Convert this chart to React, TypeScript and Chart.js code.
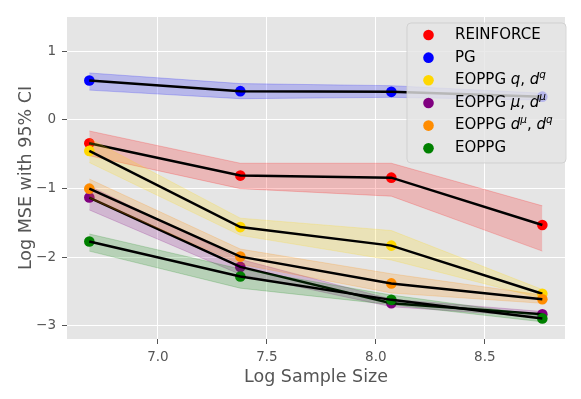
import React, { useEffect, useRef } from 'react';
import { Chart, registerables } from 'chart.js';

Chart.register(...registerables);

const FONT = '"DejaVu Sans", sans-serif';

// Data
const xValues = [6.685, 7.378, 8.071, 8.764];
const xTicks = [7.0, 7.5, 8.0, 8.5];
const yTicks = [-3, -2, -1, 0, 1];

const reinforceMean = [-0.34, -0.81, -0.84, -1.53];
const reinforceUpper = [-0.16, -0.63, -0.63, -1.25];
const reinforceLower = [-0.52, -1.0, -1.11, -1.91];

const pgMean = [0.575, 0.42, 0.41, 0.34];
const pgUpper = [0.685, 0.53, 0.5, 0.39];
const pgLower = [0.435, 0.31, 0.33, 0.29];

const qdqMean = [-0.45, -1.56, -1.83, -2.53];
const qdqUpper = [-0.27, -1.43, -1.61, -2.47];
const qdqLower = [-0.62, -1.68, -2.04, -2.6];

const mudmuMean = [-1.13, -2.14, -2.67, -2.83];
const mudmuUpper = [-0.96, -2.03, -2.61, -2.79];
const mudmuLower = [-1.31, -2.25, -2.72, -2.87];

const dmudqMean = [-1.0, -1.99, -2.38, -2.61];
const dmudqUpper = [-0.86, -1.88, -2.24, -2.55];
const dmudqLower = [-1.14, -2.1, -2.52, -2.67];

const eoppgMean = [-1.77, -2.28, -2.62, -2.89];
const eoppgUpper = [-1.66, -2.17, -2.55, -2.85];
const eoppgLower = [-1.91, -2.45, -2.69, -2.94];

type Run = { t: string; it?: boolean; sup?: boolean };

const seriesLabels: Run[][] = [
  [{ t: 'REINFORCE' }],
  [{ t: 'PG' }],
  [{ t: 'EOPPG ' }, { t: 'q', it: true }, { t: ', ' }, { t: 'd', it: true }, { t: 'q', it: true, sup: true }],
  [{ t: 'EOPPG ' }, { t: 'μ', it: true }, { t: ', ' }, { t: 'd', it: true }, { t: 'μ', it: true, sup: true }],
  [{ t: 'EOPPG ' }, { t: 'd', it: true }, { t: 'μ', it: true, sup: true }, { t: ', ' }, { t: 'd', it: true }, { t: 'q', it: true, sup: true }],
  [{ t: 'EOPPG' }],
];
const seriesColors = ['255,0,0', '0,0,255', '255,215,0', '128,0,128', '255,140,0', '0,128,0'];
const seriesMeans = [reinforceMean, pgMean, qdqMean, mudmuMean, dmudqMean, eoppgMean];
const seriesUppers = [reinforceUpper, pgUpper, qdqUpper, mudmuUpper, dmudqUpper, eoppgUpper];
const seriesLowers = [reinforceLower, pgLower, qdqLower, mudmuLower, dmudqLower, eoppgLower];

const xy = (ys: number[]) => ys.map((y, i) => ({ x: xValues[i], y }));

const bgPlugin = {
  id: 'bgPlugin',
  beforeDraw(chart: any) {
    const { ctx, chartArea } = chart;
    ctx.save();
    ctx.fillStyle = '#E5E5E5';
    ctx.fillRect(chartArea.left, chartArea.top, chartArea.right - chartArea.left, chartArea.bottom - chartArea.top);
    ctx.restore();
  },
};

const legendPlugin = {
  id: 'mathLegend',
  afterDraw(chart: any) {
    const ctx = chart.ctx as CanvasRenderingContext2D;
    const bx = 407, by = 23, bw = 159, bh = 140, r = 4;
    ctx.save();
    ctx.beginPath();
    ctx.moveTo(bx + r, by);
    ctx.arcTo(bx + bw, by, bx + bw, by + bh, r);
    ctx.arcTo(bx + bw, by + bh, bx, by + bh, r);
    ctx.arcTo(bx, by + bh, bx, by, r);
    ctx.arcTo(bx, by, bx + bw, by, r);
    ctx.closePath();
    ctx.fillStyle = 'rgba(229,229,229,0.8)';
    ctx.fill();
    ctx.strokeStyle = 'rgba(204,204,204,0.8)';
    ctx.lineWidth = 1;
    ctx.stroke();
    const fs = 15;
    seriesLabels.forEach((runs, i) => {
      const cy = 35 + i * 22.65;
      ctx.beginPath();
      ctx.arc(428.5, cy, 5.3, 0, Math.PI * 2);
      ctx.fillStyle = `rgb(${seriesColors[i]})`;
      ctx.fill();
      let x = 455;
      ctx.fillStyle = '#000';
      ctx.textBaseline = 'middle';
      ctx.textAlign = 'left';
      runs.forEach((run) => {
        const size = run.sup ? fs * 0.7 : fs;
        ctx.font = `${run.it ? 'italic ' : ''}${size}px ${FONT}`;
        const yy = run.sup ? cy - 5.5 : cy;
        ctx.fillText(run.t, x, yy);
        x += ctx.measureText(run.t).width;
      });
    });
    ctx.restore();
  },
};

export default function App() {
  const ref = useRef<HTMLCanvasElement | null>(null);
  useEffect(() => {
    if (!ref.current) return;
    const datasets: any[] = [];
    let seq = 0;
    seriesMeans.forEach((mean, s) => {
      const c = seriesColors[s];
      const base = datasets.length;
      datasets.push({
        data: xy(seriesLowers[s]),
        borderColor: `rgba(${c},0.2)`,
        borderWidth: 1,
        pointRadius: 0,
        fill: false,
        order: 1000 - seq++,
      });
      datasets.push({
        data: xy(seriesUppers[s]),
        borderColor: `rgba(${c},0.2)`,
        backgroundColor: `rgba(${c},0.2)`,
        borderWidth: 1,
        pointRadius: 0,
        fill: base,
        order: 1000 - seq++,
      });
      datasets.push({
        data: xy(mean),
        showLine: false,
        pointRadius: 5.3,
        pointBorderWidth: 0,
        pointBackgroundColor: `rgb(${c})`,
        borderColor: `rgb(${c})`,
        fill: false,
        order: 1000 - seq++,
      });
      datasets.push({
        data: xy(mean),
        borderColor: '#000',
        borderWidth: 2.5,
        pointRadius: 0,
        fill: false,
        order: 1000 - seq++,
      });
    });

    const chart = new Chart(ref.current, {
      type: 'line',
      data: { datasets },
      plugins: [bgPlugin, legendPlugin],
      options: {
        responsive: false,
        animation: false,
        events: [],
        layout: { padding: { left: 0, top: 17, right: 16, bottom: 0 } },
        plugins: { legend: { display: false }, tooltip: { enabled: false } },
        scales: {
          x: {
            type: 'linear',
            min: 6.5826,
            max: 8.868,
            afterBuildTicks: (axis: any) => {
              axis.ticks = xTicks.map((v) => ({ value: v }));
            },
            afterFit: (scale: any) => {
              scale.height = 60;
            },
            ticks: {
              color: '#555555',
              font: { family: FONT, size: 13.5 },
              padding: 5,
              maxRotation: 0,
              callback: (v: any) => Number(v).toFixed(1),
            },
            grid: { color: '#FFFFFF', lineWidth: 1, tickColor: '#555555', tickLength: 5, tickWidth: 1 },
            border: { display: false },
            title: {
              display: true,
              text: 'Log Sample Size',
              color: '#555555',
              font: { family: FONT, size: 17.5 },
              padding: { top: 0, bottom: 11 },
            },
          },
          y: {
            type: 'linear',
            min: -3.19,
            max: 1.5,
            afterBuildTicks: (axis: any) => {
              axis.ticks = yTicks.map((v) => ({ value: v }));
            },
            afterFit: (scale: any) => {
              scale.width = 67;
            },
            ticks: {
              color: '#555555',
              font: { family: FONT, size: 13.5 },
              padding: 6,
              callback: (v: any) => (Number(v) < 0 ? '\u2212' + Math.abs(Number(v)) : String(v)),
            },
            grid: { color: '#FFFFFF', lineWidth: 1, tickColor: '#555555', tickLength: 5, tickWidth: 1 },
            border: { display: false },
            title: {
              display: true,
              text: 'Log MSE with 95% CI',
              color: '#555555',
              font: { family: FONT, size: 17.5 },
              padding: { top: 16, bottom: 0 },
            },
          },
        },
      } as any,
    });
    return () => chart.destroy();
  }, []);

  return (
    <div style={{ position: 'fixed', left: 0, top: 0, width: 581, height: 399, background: '#fff' }}>
      <canvas ref={ref} width={581} height={399} style={{ width: 581, height: 399, display: 'block' }} />
    </div>
  );
}
